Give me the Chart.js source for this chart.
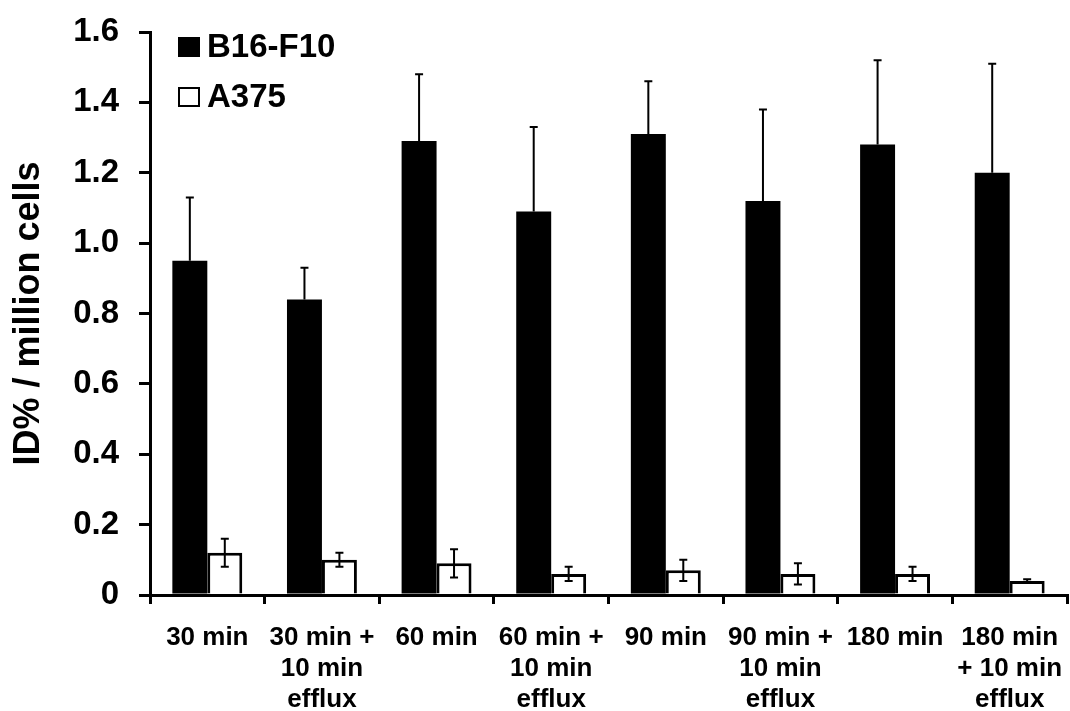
<!DOCTYPE html>
<html>
<head>
<meta charset="utf-8">
<script src="https://cdn.jsdelivr.net/npm/chart.js@4.4.1/dist/chart.umd.min.js"></script>
<style>
  body { margin: 0; background: #fff; }
  #wrap { width: 1070px; height: 711px; position: relative; }
</style>
</head>
<body>
<div id="wrap"><canvas id="chart"></canvas></div>
<script>
// data
const categories = [
  ['30 min'],
  ['30 min +', '10 min', 'efflux'],
  ['60 min'],
  ['60 min +', '10 min', 'efflux'],
  ['90 min'],
  ['90 min +', '10 min', 'efflux'],
  ['180 min'],
  ['180 min', '+ 10 min', 'efflux']
];
const seriesNames = ['B16-F10', 'A375'];
const b16Values = [0.95, 0.84, 1.29, 1.09, 1.31, 1.12, 1.28, 1.20];
const b16Errors = [0.18, 0.09, 0.19, 0.24, 0.15, 0.26, 0.24, 0.31];
const a375Values = [0.12, 0.10, 0.09, 0.06, 0.07, 0.06, 0.06, 0.04];
const a375Errors = [0.04, 0.02, 0.04, 0.02, 0.03, 0.03, 0.02, 0.005];
const yTicks = [0, 0.2, 0.4, 0.6, 0.8, 1.0, 1.2, 1.4, 1.6];

const FONT = '"Liberation Sans", Arial, sans-serif';

// error bars: black series only upward, white series both ways
const errorBars = {
  id: 'errorBars',
  afterDatasetsDraw(chart) {
    const ctx = chart.ctx;
    const y = chart.scales.y;
    ctx.save();
    ctx.strokeStyle = '#000';
    ctx.lineWidth = 2;
    chart.data.datasets.forEach((ds, i) => {
      const meta = chart.getDatasetMeta(i);
      meta.data.forEach((bar, j) => {
        const v = ds.data[j], e = ds.errors[j];
        const top = y.getPixelForValue(v + e);
        const bot = ds.upOnly ? y.getPixelForValue(v) : y.getPixelForValue(v - e);
        ctx.beginPath();
        ctx.moveTo(bar.x, top); ctx.lineTo(bar.x, bot);
        ctx.moveTo(bar.x - 4, top); ctx.lineTo(bar.x + 4, top);
        if (!ds.upOnly) { ctx.moveTo(bar.x - 4, bot); ctx.lineTo(bar.x + 4, bot); }
        ctx.stroke();
      });
    });
    ctx.restore();
  }
};

// legend drawn inside the plot, top-left
const insideLegend = {
  id: 'insideLegend',
  afterDraw(chart) {
    const ctx = chart.ctx;
    const a = chart.chartArea;
    ctx.save();
    ctx.font = 'bold 33px ' + FONT;
    ctx.textBaseline = 'middle';
    chart.data.datasets.forEach((ds, i) => {
      const x = a.left + 28, y = a.top + 5 + i * 50;
      ctx.fillStyle = ds.backgroundColor;
      ctx.fillRect(x, y, 22, 20);
      if (ds.borderWidth) {
        ctx.strokeStyle = '#000'; ctx.lineWidth = 2;
        ctx.strokeRect(x + 1, y + 1, 20, 18);
      }
      ctx.fillStyle = '#000';
      ctx.fillText(ds.label, x + 29, y + 11);
    });
    ctx.restore();
  }
};

new Chart(document.getElementById('chart'), {
  type: 'bar',
  data: {
    labels: categories,
    datasets: [
      { label: seriesNames[0], data: b16Values, errors: b16Errors, upOnly: true,
        backgroundColor: '#000', borderWidth: 0 },
      { label: seriesNames[1], data: a375Values, errors: a375Errors, upOnly: false,
        backgroundColor: '#fff', borderColor: '#000', borderWidth: 3, borderSkipped: 'bottom' }
    ]
  },
  options: {
    responsive: true,
    maintainAspectRatio: false,
    animation: false,
    layout: { padding: { top: 32, right: 3, left: 0, bottom: 0 } },
    datasets: { bar: { categoryPercentage: 0.61, barPercentage: 1.0 } },
    plugins: { legend: { display: false }, tooltip: { enabled: false } },
    scales: {
      x: {
        grid: { offset: true, drawOnChartArea: false, drawTicks: true, tickLength: 9, color: '#000', lineWidth: 3 },
        border: { display: true, color: '#000', width: 3 },
        ticks: { color: '#000', font: { family: FONT, size: 26, weight: 'bold', lineHeight: 1.2 },
          maxRotation: 0, autoSkip: false, padding: 18 },
        afterFit(s) { s.height = 116; s.paddingLeft = 0; s.paddingRight = 0; }
      },
      y: {
        min: 0, max: 1.6,
        afterBuildTicks(s) { s.ticks = yTicks.map(v => ({ value: v })); },
        grid: { drawOnChartArea: false, drawTicks: true, tickLength: 11, color: '#000', lineWidth: 3 },
        border: { display: true, color: '#000', width: 3 },
        ticks: {
          color: '#000', padding: 20,
          font: { family: FONT, size: 33, weight: 'bold' },
          callback: v => v === 0 ? '0' : v.toFixed(1)
        },
        title: { display: true, text: 'ID% / million cells', color: '#000',
          font: { family: FONT, size: 36, weight: 'bold' }, padding: { top: 7, bottom: 0 } },
        afterFit(s) { s.width = 150; s.paddingTop = 0; s.paddingBottom = 0; }
      }
    }
  },
  plugins: [errorBars, insideLegend]
});
</script>
</body>
</html>
